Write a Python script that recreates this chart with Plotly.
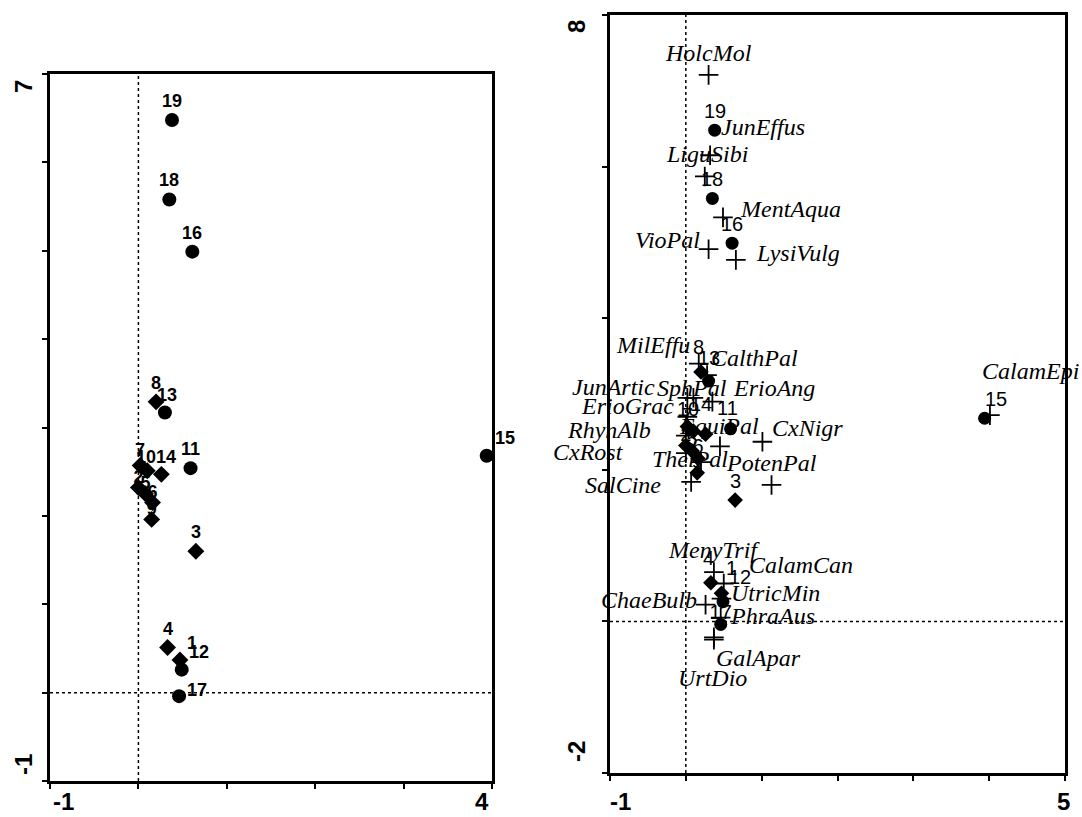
import plotly.graph_objects as go

# ---------------- data ----------------
site_names = [str(i) for i in range(1, 20)]
site_x = [0.47, 0.00, 0.65, 0.33, 0.08, 0.16, 0.02, 0.20, 0.15, 0.10,
          0.59, 0.49, 0.30, 0.26, 3.94, 0.61, 0.46, 0.35, 0.38]
site_y = [0.37, 2.32, 1.60, 0.51, 2.25, 2.15, 2.57, 3.29, 1.96, 2.51,
          2.54, 0.26, 3.17, 2.47, 2.68, 4.99, -0.04, 5.58, 6.48]
site_kind = ["D", "D", "D", "D", "D", "D", "D", "D", "D", "D",
             "C", "C", "C", "D", "C", "C", "C", "C", "C"]

species_names = ["HolcMol", "JunEffus", "LiguSibi", "MentAqua", "VioPal", "LysiVulg",
                 "MilEffu", "CalthPal", "JunArtic", "SphPal", "ErioAng", "ErioGrac",
                 "EquiPal", "CxNigr", "RhynAlb", "CxRost", "ThelPal", "PotenPal",
                 "SalCine", "CalamEpi", "MenyTrif", "CalamCan", "UtricMin", "ChaeBulb",
                 "PhraAus", "GalApar", "UrtDio"]
species_x = [0.30, 0.32, 0.25, 0.49, 0.30, 0.66,
             0.17, 0.28, 0.02, 0.10, 0.35, 0.02,
             0.45, 1.01, 0.00, 0.00, 0.20, 1.13,
             0.07, 4.01, 0.37, 0.50, 0.47, 0.26,
             0.46, 0.37, 0.37]
species_y = [7.21, 6.15, 5.87, 5.33, 4.91, 4.77,
             3.40, 3.25, 2.95, 2.95, 2.90, 2.70,
             2.31, 2.37, 2.45, 2.22, 2.10, 1.80,
             1.84, 2.72, 0.65, 0.50, 0.30, 0.22,
             0.05, -0.21, -0.24]

left_xticks = [-1, 0, 1, 2, 3, 4]
left_yticks = [-1, 0, 1, 2, 3, 4, 5, 6, 7]
right_xticks = [-1, 0, 1, 2, 3, 4, 5]
right_yticks = [-2, 0, 2, 4, 6, 8]

# ---------------- styling ----------------
W, H = 1082, 817
L_dom_x = [50 / W, 492 / W]
L_dom_y = [1 - 781 / H, 1 - 74 / H]
R_dom_x = [610 / W, 1065 / W]
R_dom_y = [1 - 773 / H, 1 - 15 / H]

# site label offsets (dx, dy) in px; labels listed in *_hidden sit under the markers
left_off = {"13": (2, 17), "15": (18, 18), "1": (12, 17), "12": (17, 18), "17": (18, 6),
            "14": (5, 17), "10": (-1, 14), "7": (0, 16)}
left_hidden = {"2", "5", "6", "9"}
right_off = {"8": (-3, 25), "13": (0, 23), "11": (-3, 21), "15": (11, 19), "4": (-2, 25),
             "1": (10, 25), "12": (17, 25), "10": (-5, 22), "14": (-5, 30)}
right_hidden = {"2", "5", "6", "7", "9", "17"}

# species label placement: (xanchor, dx, dy)
sp_place = {
    "HolcMol": ("center", 0, 22), "JunEffus": ("left", 9, 28), "LiguSibi": ("center", 2, 22),
    "MentAqua": ("left", 15, 8), "VioPal": ("right", -7, 9), "LysiVulg": ("left", 18, 7),
    "MilEffu": ("right", -7, 19), "CalthPal": ("left", 2, 17), "JunArtic": ("right", -30, 11),
    "SphPal": ("center", -1, 10), "ErioAng": ("left", 19, 14), "ErioGrac": ("right", -11, 11),
    "EquiPal": ("center", -1, 20), "CxNigr": ("left", 8, 14), "RhynAlb": ("right", -33, 6),
    "CxRost": ("right", -60, 1), "ThelPal": ("center", -11, 3), "PotenPal": ("center", 0, 22),
    "SalCine": ("right", -28, -3), "CalamEpi": ("left", -10, 44), "MenyTrif": ("center", 0, 22),
    "CalamCan": ("left", 23, 19), "UtricMin": ("left", 8, 6), "ChaeBulb": ("right", -7, 5),
    "PhraAus": ("left", 7, 2), "GalApar": ("left", 0, -21), "UrtDio": ("center", -1, -38),
}

fig = go.Figure()

sym = ["circle" if k == "C" else "diamond" for k in site_kind]
msize = [14 if k == "C" else 13 for k in site_kind]

left_font = dict(family="Liberation Sans, Arial", size=18, color="#000000", weight="bold")
right_font = dict(family="Liberation Sans, Arial", size=20, color="#000000")

annotations = []


def site_labels(xref, yref, offs, hidden, font):
    hx, hy, ht = [], [], []
    for n, x, y in zip(site_names, site_x, site_y):
        if n in hidden:
            hx.append(x); hy.append(y); ht.append(n)
            continue
        dx, dy = offs.get(n, (0, 19))
        annotations.append(dict(x=x, y=y, xref=xref, yref=yref, text=n, showarrow=False,
                                xanchor="center", yanchor="middle", xshift=dx, yshift=dy,
                                font=font))
    return hx, hy, ht


hx, hy, ht = site_labels("x", "y", left_off, left_hidden, left_font)
fig.add_trace(go.Scatter(
    x=hx, y=hy, mode="text", text=ht, textposition="top center", textfont=left_font,
    xaxis="x", yaxis="y", cliponaxis=False, showlegend=False, hoverinfo="skip"))
fig.add_trace(go.Scatter(
    x=site_x, y=site_y, mode="markers", opacity=1,
    marker=dict(symbol=sym, size=msize, color="#000000", opacity=1,
                line=dict(width=0, color="#000000")),
    xaxis="x", yaxis="y", cliponaxis=False, showlegend=False))

hx, hy, ht = site_labels("x2", "y2", right_off, right_hidden, right_font)
fig.add_trace(go.Scatter(
    x=hx, y=hy, mode="text", text=ht, textposition="top center", textfont=right_font,
    xaxis="x2", yaxis="y2", cliponaxis=False, showlegend=False, hoverinfo="skip"))
fig.add_trace(go.Scatter(
    x=species_x, y=species_y, mode="markers", opacity=1,
    marker=dict(symbol="cross-thin", size=14, color="#000000",
                line=dict(width=1.8, color="#000000")),
    xaxis="x2", yaxis="y2", cliponaxis=False, showlegend=False))
fig.add_trace(go.Scatter(
    x=site_x, y=site_y, mode="markers", opacity=1,
    marker=dict(symbol=sym, size=[s - 1 for s in msize], color="#000000", opacity=1,
                line=dict(width=0, color="#000000")),
    xaxis="x2", yaxis="y2", cliponaxis=False, showlegend=False))

for n, x, y in zip(species_names, species_x, species_y):
    xa, dx, dy = sp_place[n]
    annotations.append(dict(
        x=x, y=y, xref="x2", yref="y2", text="<i>" + n + "</i>", showarrow=False,
        xanchor=xa, yanchor="middle", xshift=dx, yshift=dy,
        font=dict(family="Liberation Serif, Times New Roman", size=24, color="#000000")))

tick_font = dict(family="Liberation Sans, Arial", size=24, color="#000000", weight="bold")


def xlab(text, x, xref, yref, dx, dy):
    annotations.append(dict(x=x, y=0, xref=xref, yref=yref + " domain", text=text,
                            showarrow=False, xanchor="center", yanchor="middle",
                            xshift=dx, yshift=dy, borderpad=0, font=tick_font))


def ylab(text, y, xref, yref, dx, dy):
    annotations.append(dict(x=0, y=y, xref=xref + " domain", yref=yref, text=text,
                            showarrow=False, xanchor="center", yanchor="middle",
                            xshift=dx, yshift=dy, textangle=-90, font=tick_font))


xlab(str(left_xticks[0]), left_xticks[0], "x", "y", 13, -20)
xlab(str(left_xticks[-1]), left_xticks[-1], "x", "y", -10, -20)
ylab(str(left_yticks[-1]), left_yticks[-1], "x", "y", -27, -13)
ylab(str(left_yticks[0]), left_yticks[0], "x", "y", -27, 16)
xlab(str(right_xticks[0]), right_xticks[0], "x2", "y2", 10, -28)
xlab(str(right_xticks[-1]), right_xticks[-1], "x2", "y2", -2, -28)
ylab(str(right_yticks[-1]), right_yticks[-1], "x2", "y2", -34, -12)
ylab(str(right_yticks[0]), right_yticks[0], "x2", "y2", -34, 21)

dot = dict(color="#000000", width=1.5, dash="dot")
shapes = [
    dict(type="line", xref="x", yref="y domain", x0=0, x1=0, y0=0, y1=1, line=dot, layer="below"),
    dict(type="line", xref="x domain", yref="y", x0=0, x1=1, y0=0, y1=0, line=dot, layer="below"),
    dict(type="line", xref="x2", yref="y2 domain", x0=0, x1=0, y0=0, y1=1, line=dot, layer="below"),
    dict(type="line", xref="x2 domain", yref="y2", x0=0, x1=1, y0=0, y1=0, line=dot, layer="below"),
]

ax_common = dict(showgrid=False, zeroline=False, showline=True, linecolor="#000000",
                 linewidth=2.5, mirror=True, ticks="outside", ticklen=5, tickwidth=2,
                 tickcolor="#000000", showticklabels=False, fixedrange=True)

fig.update_layout(
    template="none",
    width=W, height=H, margin=dict(l=0, r=0, t=0, b=0),
    paper_bgcolor="white", plot_bgcolor="white", showlegend=False,
    xaxis=dict(range=[-1, 4], domain=L_dom_x, tickvals=left_xticks, anchor="y", **ax_common),
    yaxis=dict(range=[-1, 7], domain=L_dom_y, tickvals=left_yticks, anchor="x", **ax_common),
    xaxis2=dict(range=[-1, 5], domain=R_dom_x, tickvals=right_xticks, anchor="y2", **ax_common),
    yaxis2=dict(range=[-2, 8], domain=R_dom_y, tickvals=right_yticks, anchor="x2", **ax_common),
    annotations=annotations, shapes=shapes,
)

fig.write_html("out.html")
